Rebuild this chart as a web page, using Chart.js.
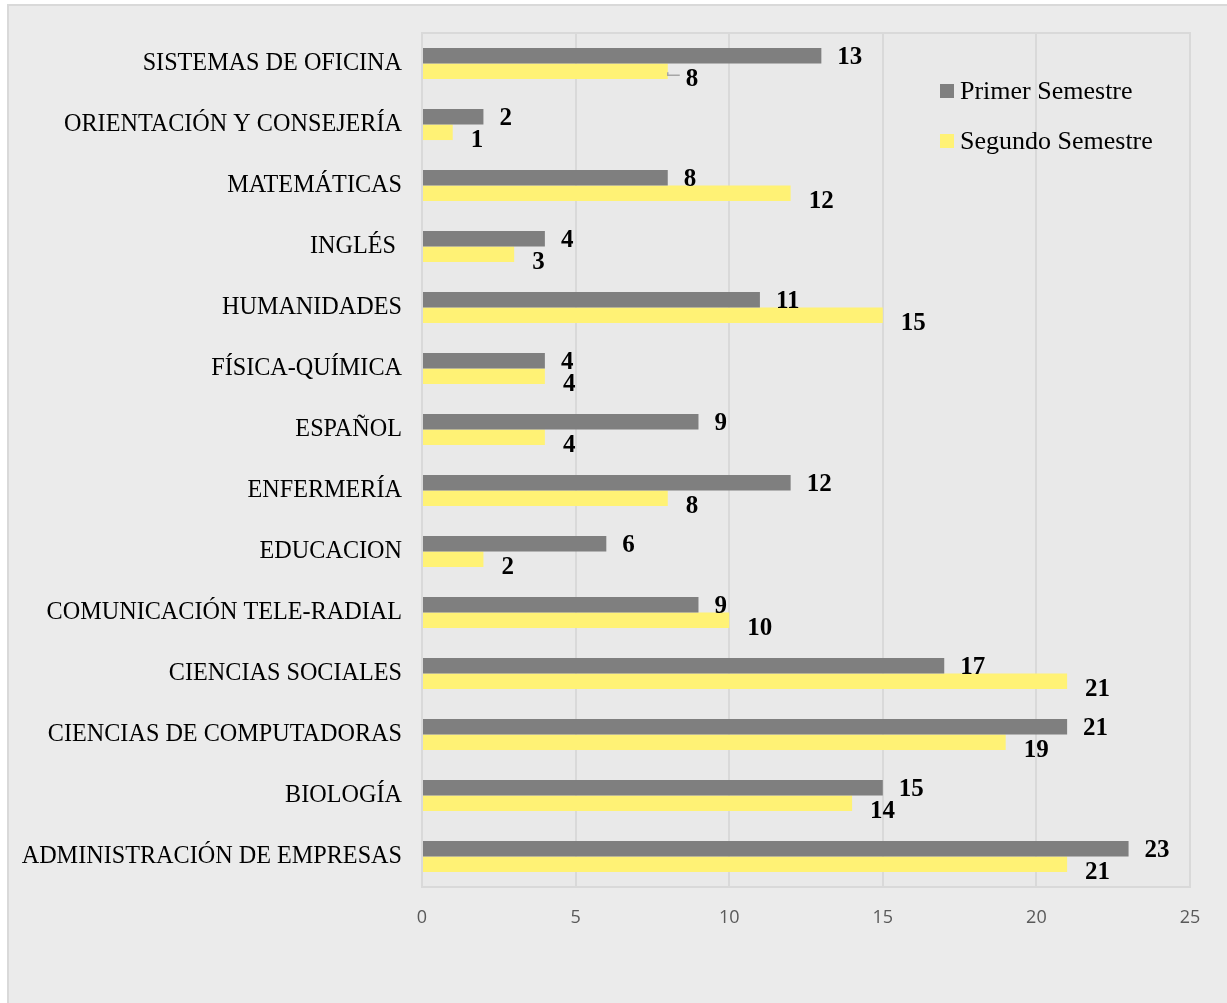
<!DOCTYPE html>
<html>
<head>
<meta charset="utf-8">
<script src="https://cdn.jsdelivr.net/npm/chart.js@4/dist/chart.umd.min.js"></script>
<style>
  html, body { margin: 0; padding: 0; background: #ffffff; }
  #box { position: absolute; left: 7px; top: 4px; width: 1218px; height: 1001px;
         border: 2px solid #d9d9d9; background: #ebebeb; overflow: hidden; }
  canvas { display: block; }
</style>
</head>
<body>
<div id="box"><canvas id="c" width="1218" height="999"></canvas></div>
<script>
const categories = [
  "SISTEMAS DE OFICINA",
  "ORIENTACIÓN Y CONSEJERÍA",
  "MATEMÁTICAS",
  "INGLÉS ",
  "HUMANIDADES",
  "FÍSICA-QUÍMICA",
  "ESPAÑOL",
  "ENFERMERÍA",
  "EDUCACION",
  "COMUNICACIÓN TELE-RADIAL",
  "CIENCIAS SOCIALES",
  "CIENCIAS DE COMPUTADORAS",
  "BIOLOGÍA",
  "ADMINISTRACIÓN DE EMPRESAS"
];
const primerSemestre  = [13, 2, 8, 4, 11, 4, 9, 12, 6, 9, 17, 21, 15, 23];
const segundoSemestre = [8, 1, 12, 3, 15, 4, 4, 8, 2, 10, 21, 19, 14, 21];
const seriesNames = ["Primer Semestre", "Segundo Semestre"];
const xTicks = [0, 5, 10, 15, 20, 25];

const GRAY = "#7f7f7f";
const YELLOW = "#fff275";
const GRID = "#d9d9d9";
const SERIF = "'Liberation Serif', 'Times New Roman', serif";

const plotFrame = {
  id: "plotFrame",
  beforeDraw(chart) {
    const a = chart.chartArea, ctx = chart.ctx;
    ctx.save();
    ctx.fillStyle = "#e9e9e9";
    ctx.fillRect(a.left, a.top, a.right - a.left, a.bottom - a.top);
    ctx.restore();
  },
  afterDraw(chart) {
    const a = chart.chartArea, ctx = chart.ctx;
    ctx.save();
    ctx.strokeStyle = GRID;
    ctx.lineWidth = 2;
    ctx.strokeRect(a.left, a.top, a.right - a.left, a.bottom - a.top);
    ctx.restore();
  }
};

const dataLabels = {
  id: "dataLabels",
  afterDatasetsDraw(chart) {
    const ctx = chart.ctx;
    ctx.save();
    ctx.font = "bold 25px " + SERIF;
    ctx.fillStyle = "#000";
    ctx.textBaseline = "middle";
    ctx.textAlign = "left";
    chart.data.datasets.forEach((ds, di) => {
      const meta = chart.getDatasetMeta(di);
      meta.data.forEach((bar, i) => {
        const dx = di === 0 ? 16 : 18;
        const dy = di === 0 ? 2 : 8;
        ctx.fillText(String(ds.data[i]), bar.x + dx, bar.y + dy);
      });
    });
    // leader line for first yellow label
    const b = chart.getDatasetMeta(1).data[0];
    ctx.strokeStyle = "#a6a6a6";
    ctx.lineWidth = 1.5;
    ctx.beginPath();
    ctx.moveTo(b.x, b.y + 1);
    ctx.lineTo(b.x, b.y + 4);
    ctx.lineTo(b.x + 12, b.y + 4);
    ctx.stroke();
    ctx.restore();
  }
};

const customLegend = {
  id: "customLegend",
  afterDraw(chart) {
    const ctx = chart.ctx;
    const x = 931, ys = [85, 135];
    const cols = [GRAY, YELLOW];
    ctx.save();
    ctx.font = "26px " + SERIF;
    ctx.textBaseline = "middle";
    ctx.textAlign = "left";
    seriesNames.forEach((name, i) => {
      ctx.fillStyle = cols[i];
      ctx.fillRect(x, ys[i] - 7, 14, 14);
      ctx.fillStyle = "#000";
      ctx.fillText(name, x + 20, ys[i] + 1);
    });
    ctx.restore();
  }
};

new Chart(document.getElementById("c"), {
  type: "bar",
  data: {
    labels: categories,
    datasets: [
      { label: seriesNames[0], data: primerSemestre, backgroundColor: GRAY,
        barPercentage: 1.0, categoryPercentage: 0.51 },
      { label: seriesNames[1], data: segundoSemestre, backgroundColor: YELLOW,
        barPercentage: 1.0, categoryPercentage: 0.51 }
    ]
  },
  options: {
    indexAxis: "y",
    responsive: false,
    animation: false,
    devicePixelRatio: 1,
    layout: { padding: { top: 27, right: 37, left: 0, bottom: 0 } },
    plugins: { legend: { display: false }, tooltip: { enabled: false } },
    scales: {
      x: {
        min: 0, max: 25,
        afterBuildTicks(scale) { scale.ticks = xTicks.map(v => ({ value: v })); },
        grid: { color: GRID, lineWidth: 2, drawTicks: false },
        border: { display: false },
        ticks: {
          padding: 20,
          color: "#595959",
          font: { family: "'Open Sans', sans-serif", size: 18 }
        },
        afterFit(scale) { scale.height = 118; scale.paddingLeft = 0; scale.paddingRight = 0; }
      },
      y: {
        grid: { display: false, drawTicks: false },
        border: { display: false },
        ticks: {
          padding: 20,
          color: "#000",
          font: { family: SERIF, size: 24.2 }
        },
        afterFit(scale) { scale.width = 413; scale.paddingTop = 0; scale.paddingBottom = 0; }
      }
    }
  },
  plugins: [plotFrame, dataLabels, customLegend]
});
</script>
</body>
</html>
